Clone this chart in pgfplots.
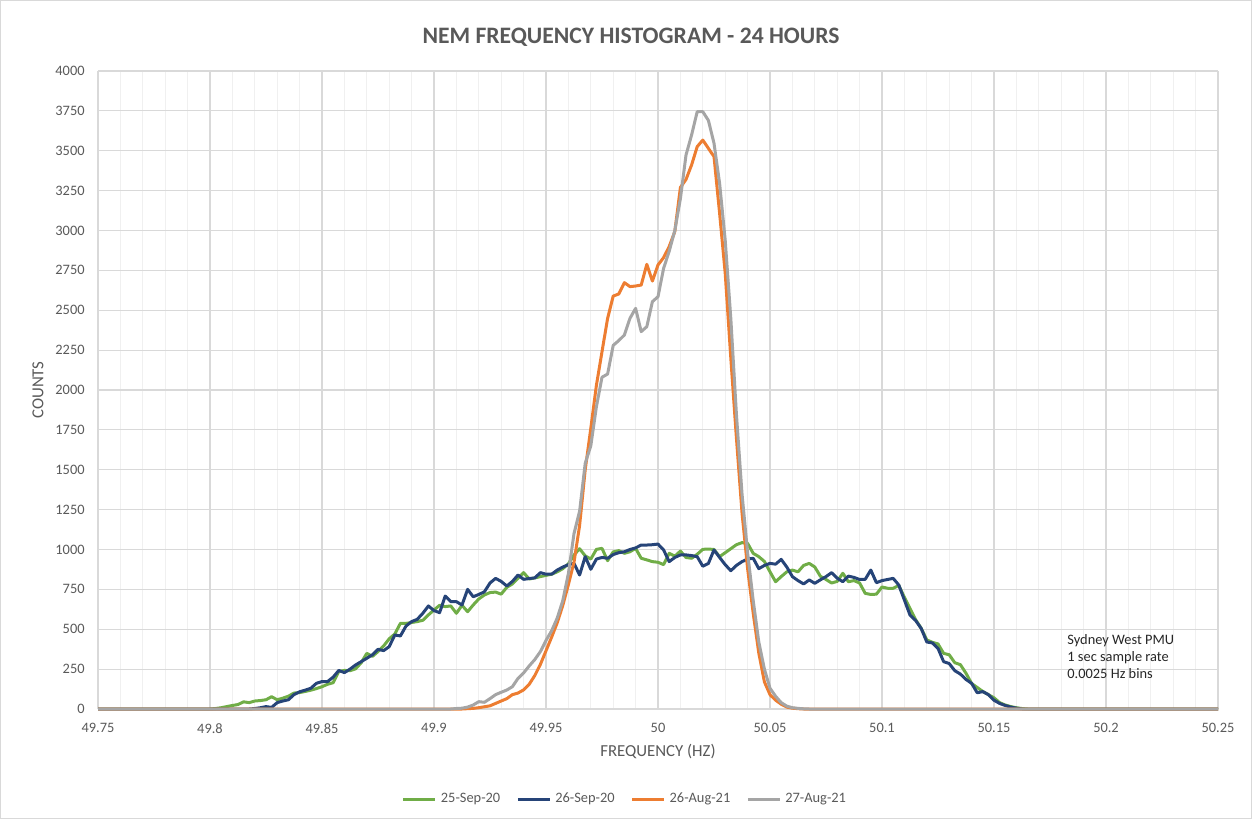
\documentclass[border=0pt]{standalone}
\usepackage{fontspec}
\setmainfont{Carlito}
\usepackage{pgfplots}
\pgfplotsset{compat=1.18}
\definecolor{cgreen}{HTML}{70AD47}
\definecolor{cblue}{HTML}{264478}
\definecolor{corange}{HTML}{ED7D31}
\definecolor{cgray}{HTML}{A5A5A5}
\definecolor{ctext}{HTML}{595959}
\definecolor{cgrid}{HTML}{D9D9D9}
\definecolor{cminor}{HTML}{F0F0F0}
\begin{document}
\begin{tikzpicture}
\path[use as bounding box, draw=cgrid, line width=0.5pt] (0.25pt,0.25pt) rectangle (625.75pt,409.25pt);
\begin{axis}[
 at={(49pt,55pt)}, anchor=south west,
 scale only axis, width=560pt, height=319pt,
 xmin=49.75, xmax=50.25, ymin=0, ymax=4000,
 xtick={49.75,49.8,49.85,49.9,49.95,50,50.05,50.1,50.15,50.2,50.25},
 xticklabels={49.75,49.8,49.85,49.9,49.95,50,50.05,50.1,50.15,50.2,50.25},
 minor x tick num=4,
 ytick={0,250,...,4000},
 grid=both,
 major grid style={cgrid, line width=0.6pt},
 minor grid style={cminor, line width=0.6pt},
 axis line style={draw=none},
 tick style={draw=none},
 major tick length=0pt, minor tick length=0pt,
 ticklabel style={font=\fontsize{7.2}{8}\selectfont, text=ctext},
 yticklabel style={anchor=east, inner sep=0pt, xshift=-6.5pt},
 xticklabel style={anchor=north, inner sep=0pt, yshift=-7pt},
 /pgf/number format/1000 sep={},
 /pgf/number format/assume math mode=true,
 clip=false,
 legend columns=4,
 legend style={at={(0.4714,-0.1411)}, anchor=center, draw=none, fill=none,
   font=\fontsize{7.2}{8}\selectfont, text=ctext, inner sep=0pt,
   /tikz/every even column/.append style={column sep=6pt}},
 legend cell align=left,
 legend image code/.code={\draw[#1] (0pt,0pt) -- (16pt,0pt);},
 every axis plot/.append style={line width=1.5pt, line join=round},
]
% 25-Sep-20
\addplot[cgreen] coordinates {
(49.75,0)(49.8,0)(49.8025,3)(49.805,8)(49.8075,15)(49.81,22)(49.8125,28)(49.815,45)(49.8175,40)(49.82,50)
(49.8225,53)(49.825,58)(49.8275,77)(49.83,58)(49.8325,68)(49.835,80)(49.8375,100)(49.84,103)(49.8425,110)(49.845,118)
(49.8475,128)(49.85,140)(49.8525,155)(49.855,165)(49.8575,235)(49.86,242)(49.8625,240)(49.865,252)(49.8675,290)(49.87,349)
(49.8725,330)(49.875,360)(49.8775,395)(49.88,440)(49.8825,470)(49.885,537)(49.8875,537)(49.89,542)(49.8925,548)(49.895,556)
(49.8975,590)(49.9,621)(49.9025,650)(49.905,642)(49.9075,646)(49.91,600)(49.9125,650)(49.915,610)(49.9175,652)(49.92,690)
(49.9225,715)(49.925,730)(49.9275,733)(49.93,720)(49.9325,763)(49.935,784)(49.9375,820)(49.94,855)(49.9425,815)(49.945,822)
(49.9475,830)(49.95,838)(49.9525,845)(49.955,860)(49.9575,880)(49.96,910)(49.9625,966)(49.965,1005)(49.9675,960)(49.97,940)
(49.9725,1001)(49.975,1007)(49.9775,930)(49.98,985)(49.9825,993)(49.985,976)(49.9875,986)(49.99,1007)(49.9925,945)(49.995,935)
(49.9975,924)(50.0,920)(50.0025,905)(50.005,976)(50.0075,958)(50.01,990)(50.0125,950)(50.015,945)(50.0175,970)(50.02,1001)
(50.0225,1003)(50.025,1000)(50.0275,955)(50.03,980)(50.0325,1005)(50.035,1030)(50.0375,1043)(50.04,1038)(50.0425,976)(50.045,955)
(50.0475,925)(50.05,860)(50.0525,798)(50.055,830)(50.0575,860)(50.06,871)(50.0625,860)(50.065,900)(50.0675,913)(50.07,890)
(50.0725,832)(50.075,812)(50.0775,790)(50.08,800)(50.0825,851)(50.085,798)(50.0875,805)(50.09,790)(50.0925,725)(50.095,718)
(50.0975,720)(50.1,765)(50.1025,757)(50.105,757)(50.1075,775)(50.11,700)(50.1125,630)(50.115,560)(50.1175,506)(50.12,433)
(50.1225,418)(50.125,408)(50.1275,349)(50.13,340)(50.1325,290)(50.135,278)(50.1375,224)(50.14,160)(50.1425,135)(50.145,110)
(50.1475,90)(50.15,70)(50.1525,40)(50.155,25)(50.1575,15)(50.16,8)(50.1625,3)(50.165,0)(50.25,0)
};
\addlegendentry{25-Sep-20}
% 26-Sep-20
\addplot[cblue] coordinates {
(49.75,0)(49.8175,0)(49.82,3)(49.8225,8)(49.825,15)(49.8275,10)(49.83,40)(49.8325,50)(49.835,58)(49.8375,90)
(49.84,108)(49.8425,118)(49.845,130)(49.8475,161)(49.85,172)(49.8525,172)(49.855,200)(49.8575,242)(49.86,228)(49.8625,250)
(49.865,276)(49.8675,297)(49.87,318)(49.8725,340)(49.875,374)(49.8775,366)(49.88,391)(49.8825,464)(49.885,458)(49.8875,520)
(49.89,548)(49.8925,562)(49.895,600)(49.8975,646)(49.9,617)(49.9025,604)(49.905,708)(49.9075,673)(49.91,673)(49.9125,652)
(49.915,750)(49.9175,704)(49.92,718)(49.9225,735)(49.925,790)(49.9275,819)(49.93,800)(49.9325,771)(49.935,800)(49.9375,840)
(49.94,813)(49.9425,818)(49.945,822)(49.9475,855)(49.95,845)(49.9525,845)(49.955,871)(49.9575,890)(49.96,905)(49.9625,913)
(49.965,840)(49.9675,955)(49.97,876)(49.9725,940)(49.975,950)(49.9775,945)(49.98,968)(49.9825,980)(49.985,986)(49.9875,1000)
(49.99,1010)(49.9925,1028)(49.995,1028)(49.9975,1030)(50.0,1034)(50.0025,997)(50.005,924)(50.0075,950)(50.01,966)(50.0125,966)
(50.015,962)(50.0175,955)(50.02,895)(50.0225,913)(50.025,997)(50.0275,950)(50.03,905)(50.0325,867)(50.035,900)(50.0375,924)
(50.04,940)(50.0425,945)(50.045,880)(50.0475,900)(50.05,913)(50.0525,908)(50.055,938)(50.0575,890)(50.06,830)(50.0625,805)
(50.065,784)(50.0675,809)(50.07,788)(50.0725,810)(50.075,830)(50.0775,855)(50.08,820)(50.0825,798)(50.085,833)(50.0875,825)
(50.09,812)(50.0925,813)(50.095,871)(50.0975,792)(50.1,805)(50.1025,812)(50.105,819)(50.1075,777)(50.11,683)(50.1125,589)
(50.115,555)(50.1175,505)(50.12,420)(50.1225,414)(50.125,380)(50.1275,297)(50.13,285)(50.1325,240)(50.135,219)(50.1375,185)
(50.14,161)(50.1425,102)(50.145,109)(50.1475,90)(50.15,55)(50.1525,35)(50.155,22)(50.1575,12)(50.16,5)(50.1625,0)(50.25,0)
};
\addlegendentry{26-Sep-20}
% 26-Aug-21
\addplot[corange] coordinates {
(49.75,0)(49.9125,0)(49.915,2)(49.9175,4)(49.92,8)(49.9225,14)(49.925,20)(49.9275,35)(49.93,50)(49.9325,65)
(49.935,90)(49.9375,100)(49.94,120)(49.9425,155)(49.945,210)(49.9475,280)(49.95,365)(49.9525,450)(49.955,540)(49.9575,650)
(49.96,780)(49.9625,920)(49.965,1150)(49.9675,1500)(49.97,1760)(49.9725,2030)(49.975,2240)(49.9775,2449)(49.98,2589)(49.9825,2602)
(49.985,2673)(49.9875,2648)(49.99,2652)(49.9925,2658)(49.995,2788)(49.9975,2683)(50.0,2784)(50.0025,2830)(50.005,2900)(50.0075,2993)
(50.01,3270)(50.0125,3320)(50.015,3411)(50.0175,3526)(50.02,3567)(50.0225,3515)(50.025,3463)(50.0275,3108)(50.03,2732)(50.0325,2200)
(50.035,1700)(50.0375,1230)(50.04,880)(50.0425,600)(50.045,350)(50.0475,170)(50.05,90)(50.0525,55)(50.055,30)(50.0575,12)
(50.06,5)(50.0625,2)(50.065,0)(50.25,0)
};
\addlegendentry{26-Aug-21}
% 27-Aug-21
\addplot[cgray] coordinates {
(49.75,0)(49.9075,0)(49.91,3)(49.9125,5)(49.915,12)(49.9175,25)(49.92,46)(49.9225,42)(49.925,65)(49.9275,90)
(49.93,105)(49.9325,119)(49.935,140)(49.9375,192)(49.94,226)(49.9425,270)(49.945,310)(49.9475,360)(49.95,430)(49.9525,490)
(49.955,570)(49.9575,680)(49.96,850)(49.9625,1100)(49.965,1240)(49.9675,1540)(49.97,1650)(49.9725,1895)(49.975,2080)(49.9775,2100)
(49.98,2280)(49.9825,2310)(49.985,2345)(49.9875,2450)(49.99,2512)(49.9925,2366)(49.995,2397)(49.9975,2554)(50.0,2585)(50.0025,2763)
(50.005,2870)(50.0075,3000)(50.01,3200)(50.0125,3473)(50.015,3599)(50.0175,3745)(50.02,3745)(50.0225,3690)(50.025,3547)(50.0275,3296)
(50.03,2940)(50.0325,2450)(50.035,1850)(50.0375,1350)(50.04,980)(50.0425,680)(50.045,420)(50.0475,250)(50.05,130)(50.0525,80)
(50.055,40)(50.0575,18)(50.06,8)(50.0625,4)(50.065,1)(50.0675,0)(50.25,0)
};
\addlegendentry{27-Aug-21}
\end{axis}
\node[font=\bfseries\fontsize{11.8}{13}\selectfont, text=ctext] at (315.5pt,391pt) {NEM FREQUENCY HISTOGRAM - 24 HOURS};
\node[font=\fontsize{8.4}{10}\selectfont, text=ctext, rotate=90] at (19pt,214.5pt) {COUNTS};
\node[font=\fontsize{8.4}{10}\selectfont, text=ctext] at (329pt,33.5pt) {FREQUENCY (HZ)};
\node[font=\fontsize{7.2}{8.5}\selectfont, text=black!85, anchor=west, inner sep=0pt, align=left] at (533.5pt,81pt) {Sydney West PMU\\1 sec sample rate\\0.0025 Hz bins};
\end{tikzpicture}
\end{document}
